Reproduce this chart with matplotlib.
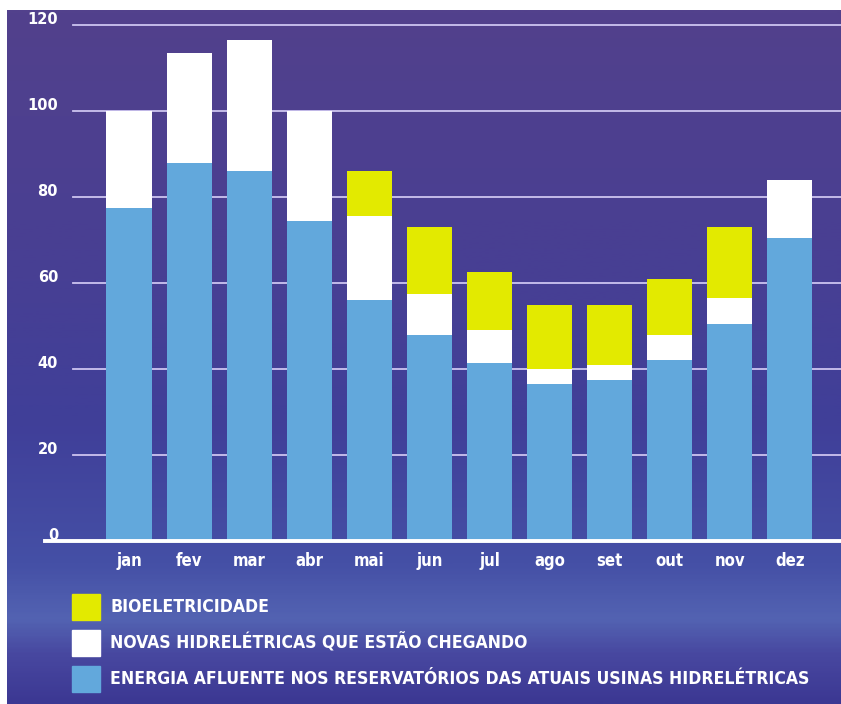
import numpy as np
import matplotlib.pyplot as plt
from matplotlib import font_manager as fm
from matplotlib.colors import LinearSegmentedColormap
from matplotlib.patches import Rectangle

months = ['jan', 'fev', 'mar', 'abr', 'mai', 'jun', 'jul', 'ago', 'set', 'out', 'nov', 'dez']
energia = [77.5, 88, 86, 74.5, 56, 48, 41.5, 36.5, 37.5, 42, 50.5, 70.5]
novas = [22.5, 25.5, 30.5, 25.5, 19.5, 9.5, 7.5, 3.5, 3.5, 6, 6, 13.5]
bio = [0, 0, 0, 0, 10.5, 15.5, 13.5, 15, 14, 13, 16.5, 0]
yticks = [0, 20, 40, 60, 80, 100, 120]
legend_labels = ['BIOELETRICIDADE',
                 'NOVAS HIDRELÉTRICAS QUE ESTÃO CHEGANDO',
                 'ENERGIA AFLUENTE NOS RESERVATÓRIOS DAS ATUAIS USINAS HIDRELÉTRICAS']

c_blue = '#62a8dc'
c_white = '#ffffff'
c_yellow = '#e3ea00'

# look for a condensed bold face, otherwise plain bold sans
cond = None
for f in fm.fontManager.ttflist:
    narrow = ('Narrow' in f.name or 'Condensed' in f.name
              or f.stretch in ('condensed', 'semi-condensed', 'extra-condensed'))
    bold = f.weight in ('bold', 700, 'heavy', 800, 900)
    if narrow and bold:
        cond = f.fname
        break
if cond:
    cfont = fm.FontProperties(fname=cond)
else:
    cfont = fm.FontProperties(family='Liberation Sans', weight='bold')

fig = plt.figure(figsize=(8.41, 7.04), dpi=100, facecolor='white')

# background gradient
bg = fig.add_axes([7 / 841, 0, 834 / 841, 694 / 704])
bg_cmap = LinearSegmentedColormap.from_list('bg', [
    (0.0, '#52418c'), (0.3, '#4a3f92'), (0.6, '#403f99'),
    (0.8, '#4550a6'), (0.88, '#5363b2'), (0.93, '#4848a0'), (1.0, '#3c3893')])
grad = np.linspace(0, 1, 400).reshape(-1, 1)
bg.imshow(grad, aspect='auto', cmap=bg_cmap, extent=[0, 1, 0, 1], origin='upper')
bg.axis('off')

ax = fig.add_axes([73 / 841, 163 / 704, 768 / 841, 516 / 704])
ax.set_facecolor('none')
ax.set_xlim(-0.932, 11.85)
ax.set_ylim(0, 120)
for s in ax.spines.values():
    s.set_visible(False)
ax.set_xticks([])
ax.set_yticks([])

for v in yticks:
    if v > 0:
        ax.axhline(v, color='#cdc4f0', lw=1.3, zorder=1, clip_on=False)
    ax.text(-1.18, v + 1.3, str(v), color='white', fontsize=10.5, fontweight='bold',
            ha='right', va='center', clip_on=False)

x = np.arange(len(months))
energia = np.array(energia)
novas = np.array(novas)
bio = np.array(bio)
ax.bar(x, energia, width=0.75, color=c_blue, zorder=2)
ax.bar(x, novas, width=0.75, bottom=energia, color=c_white, zorder=2)
ax.bar(x, bio, width=0.75, bottom=energia + novas, color=c_yellow, zorder=2)

ax.plot([-1.40, 11.85], [0, 0], color='white', lw=2.8, clip_on=False, zorder=4)

# legend
leg_colors = [c_yellow, c_white, c_blue]
leg_y = [607, 643, 679]
leg_texts = []
for lab, col, yc in zip(legend_labels, leg_colors, leg_y):
    fig.add_artist(Rectangle((72 / 841, (704 - yc - 13) / 704), 28 / 841, 26 / 704,
                             transform=fig.transFigure, color=col))
    t = fig.text(110 / 841, (704 - yc) / 704, lab, color='white', fontproperties=cfont,
                 ha='left', va='center')
    leg_texts.append(t)

# fit the legend font so the longest line spans ~700 px like the original
for t in leg_texts:
    t.set_fontsize(12)
r = fig.canvas.get_renderer()
w = leg_texts[2].get_window_extent(r).width
size = 12 * 700 / w
for t in leg_texts:
    t.set_fontsize(size)

month_texts = []
for xi, m in zip(x, months):
    mt = ax.text(xi, -4.6, m, color='white', fontproperties=cfont,
                 ha='center', va='center', clip_on=False)
    mt.set_fontsize(size * 0.95)
    month_texts.append(mt)

fig.savefig('out.png', dpi=100, facecolor='white')
